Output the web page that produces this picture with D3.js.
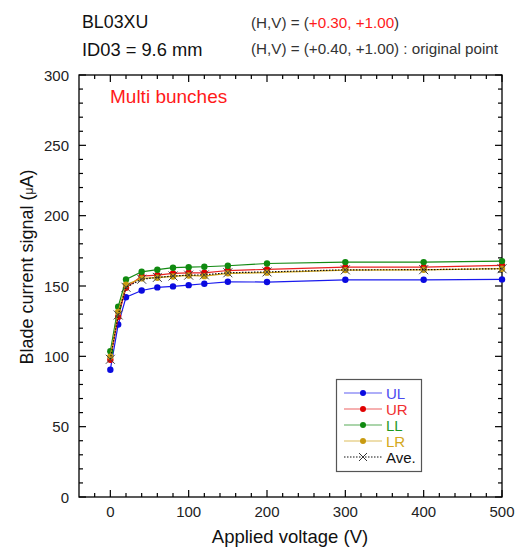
<!DOCTYPE html>
<html>
<head>
<meta charset="utf-8">
<script src="https://cdn.jsdelivr.net/npm/d3@7"></script>
<style>
  html, body { margin: 0; padding: 0; background: #fff; }
  svg { display: block; font-family: "Liberation Sans", Arial, sans-serif; }
</style>
</head>
<body>
<svg id="chart" width="515" height="547"></svg>
<script>
// Applied voltage (V)
const voltage = [0, 10, 20, 40, 60, 80, 100, 120, 150, 200, 300, 400, 500];

// Blade current signal (uA) for each blade
const UL = [90.5, 122.6, 142.0, 146.8, 149.0, 149.7, 150.6, 151.6, 153.0, 152.8, 154.4, 154.4, 154.7];
const UR = [97.6, 128.1, 148.7, 157.0, 157.7, 159.0, 159.4, 159.4, 161.0, 161.8, 163.4, 163.4, 164.6];
const LL = [103.6, 135.2, 154.7, 160.1, 161.6, 163.0, 163.4, 163.7, 164.4, 166.0, 167.0, 167.0, 167.7];
const LR = [99.8, 131.6, 151.0, 155.4, 155.9, 156.8, 157.5, 157.0, 159.0, 159.5, 161.3, 161.5, 162.3];
const Ave = [97.9, 129.4, 149.1, 154.8, 156.1, 157.1, 157.7, 157.9, 159.4, 160.0, 161.5, 161.6, 162.3];

const seriesNames = ["UL", "UR", "LL", "LR", "Ave."];
const xTicks = [0, 100, 200, 300, 400, 500];
const yTicks = [0, 50, 100, 150, 200, 250, 300];

const series = [
  { name: "UL", values: UL, line: "#1a1aee", dot: "#0a0ae0", text: "#4a4af0" },
  { name: "UR", values: UR, line: "#e82020", dot: "#e00000", text: "#f03030" },
  { name: "LL", values: LL, line: "#138a13", dot: "#108a10", text: "#1f9a1f" },
  { name: "LR", values: LR, line: "#d0a418", dot: "#c89a10", text: "#d4a820" },
];

const svg = d3.select("#chart");
const plotLeft = 79, plotRight = 502, plotTop = 75, plotBottom = 497;

const x = d3.scaleLinear().domain([-40, 500]).range([plotLeft, plotRight]);
const y = d3.scaleLinear().domain([0, 300]).range([plotBottom, plotTop]);

// Frame
svg.append("rect")
  .attr("x", plotLeft).attr("y", plotTop)
  .attr("width", plotRight - plotLeft).attr("height", plotBottom - plotTop)
  .attr("fill", "none").attr("stroke", "#000").attr("stroke-width", 1.3);

// Inward ticks on all four sides
const xMinor = d3.range(-20, 501, 20);
const yMinor = d3.range(0, 301, 10);
const tickG = svg.append("g").attr("stroke", "#000").attr("stroke-width", 1.2);
xMinor.forEach(v => {
  const len = v % 100 === 0 ? 7 : 4;
  tickG.append("line").attr("x1", x(v)).attr("x2", x(v)).attr("y1", plotBottom).attr("y2", plotBottom - len);
  tickG.append("line").attr("x1", x(v)).attr("x2", x(v)).attr("y1", plotTop).attr("y2", plotTop + len);
});
yMinor.forEach(v => {
  const len = v % 50 === 0 ? 7 : 4;
  tickG.append("line").attr("y1", y(v)).attr("y2", y(v)).attr("x1", plotLeft).attr("x2", plotLeft + len);
  tickG.append("line").attr("y1", y(v)).attr("y2", y(v)).attr("x1", plotRight).attr("x2", plotRight - len);
});

// Tick labels
svg.append("g").selectAll("text").data(xTicks).join("text")
  .attr("x", d => x(d)).attr("y", 517)
  .attr("text-anchor", "middle").attr("font-size", 15).attr("fill", "#222")
  .text(d => d);
svg.append("g").selectAll("text").data(yTicks).join("text")
  .attr("x", 69).attr("y", d => y(d) + 5.5)
  .attr("text-anchor", "end").attr("font-size", 15).attr("fill", "#222")
  .text(d => d);

// Axis titles
svg.append("text")
  .attr("x", 290).attr("y", 543)
  .attr("text-anchor", "middle").attr("font-size", 18.5).attr("fill", "#111")
  .text("Applied voltage (V)");
const yt = svg.append("text")
  .attr("transform", "translate(33,267) rotate(-90)")
  .attr("text-anchor", "middle").attr("font-size", 18).attr("fill", "#111");
yt.append("tspan").text("Blade current signal (");
yt.append("tspan").attr("font-size", 12).text("\u03bc");
yt.append("tspan").text("A)");

// Header text
svg.append("text").attr("x", 82).attr("y", 27.5).attr("font-size", 17.8).attr("fill", "#111").text("BL03XU");
svg.append("text").attr("x", 82).attr("y", 55.5).attr("font-size", 18.3).attr("fill", "#111").text("ID03 = 9.6 mm");
const h1 = svg.append("text").attr("x", 251).attr("y", 27.5).attr("font-size", 15.2).attr("fill", "#333");
h1.append("tspan").text("(H,V) = (");
h1.append("tspan").attr("fill", "#ff1a1a").text("+0.30, +1.00");
h1.append("tspan").text(")");
svg.append("text").attr("x", 251).attr("y", 53.5).attr("font-size", 15.2).attr("fill", "#333")
  .text("(H,V) = (+0.40, +1.00) : original point");

svg.append("text").attr("x", 110).attr("y", 103).attr("font-size", 19).attr("fill", "#ff1a1a").text("Multi bunches");

// Data lines and markers
const line = d3.line().x((d, i) => x(voltage[i])).y(d => y(d));
series.forEach(s => {
  svg.append("path").datum(s.values)
    .attr("d", line).attr("fill", "none")
    .attr("stroke", s.line).attr("stroke-width", 1.2);
  svg.append("g").selectAll("circle").data(s.values).join("circle")
    .attr("cx", (d, i) => x(voltage[i])).attr("cy", d => y(d))
    .attr("r", 3.2).attr("fill", s.dot);
});

// Average: dotted black line with x markers
svg.append("path").datum(Ave)
  .attr("d", line).attr("fill", "none")
  .attr("stroke", "#111").attr("stroke-width", 1.2).attr("stroke-dasharray", "1.5,1.5");
const xm = 4.5;
svg.append("g").selectAll("path").data(Ave).join("path")
  .attr("d", (d, i) => {
    const cx = x(voltage[i]), cy = y(d);
    return `M${cx - xm},${cy - xm}L${cx + xm},${cy + xm}M${cx - xm},${cy + xm}L${cx + xm},${cy - xm}`;
  })
  .attr("stroke", "#444").attr("stroke-width", 1).attr("fill", "none");

// Legend
const lg = svg.append("g");
lg.append("rect").attr("x", 336.5).attr("y", 379.5).attr("width", 85).attr("height", 92)
  .attr("fill", "#fff").attr("stroke", "#555").attr("stroke-width", 1.2);
seriesNames.forEach((name, i) => {
  const ly = 393 + i * 16;
  const s = series[i];
  if (s) {
    lg.append("line").attr("x1", 344).attr("x2", 382).attr("y1", ly).attr("y2", ly)
      .attr("stroke", s.line).attr("stroke-width", 1.2).attr("opacity", 0.7);
    lg.append("circle").attr("cx", 363).attr("cy", ly).attr("r", 3).attr("fill", s.dot);
    lg.append("text").attr("x", 386).attr("y", ly + 5.5).attr("font-size", 15).attr("fill", s.text).text(name);
  } else {
    lg.append("line").attr("x1", 344).attr("x2", 382).attr("y1", ly).attr("y2", ly)
      .attr("stroke", "#111").attr("stroke-width", 1).attr("stroke-dasharray", "1.5,1.5");
    lg.append("path")
      .attr("d", `M${363 - 4},${ly - 4}L${363 + 4},${ly + 4}M${363 - 4},${ly + 4}L${363 + 4},${ly - 4}`)
      .attr("stroke", "#333").attr("stroke-width", 1);
    lg.append("text").attr("x", 386).attr("y", ly + 5.5).attr("font-size", 15).attr("fill", "#111").text(name);
  }
});
</script>
</body>
</html>
